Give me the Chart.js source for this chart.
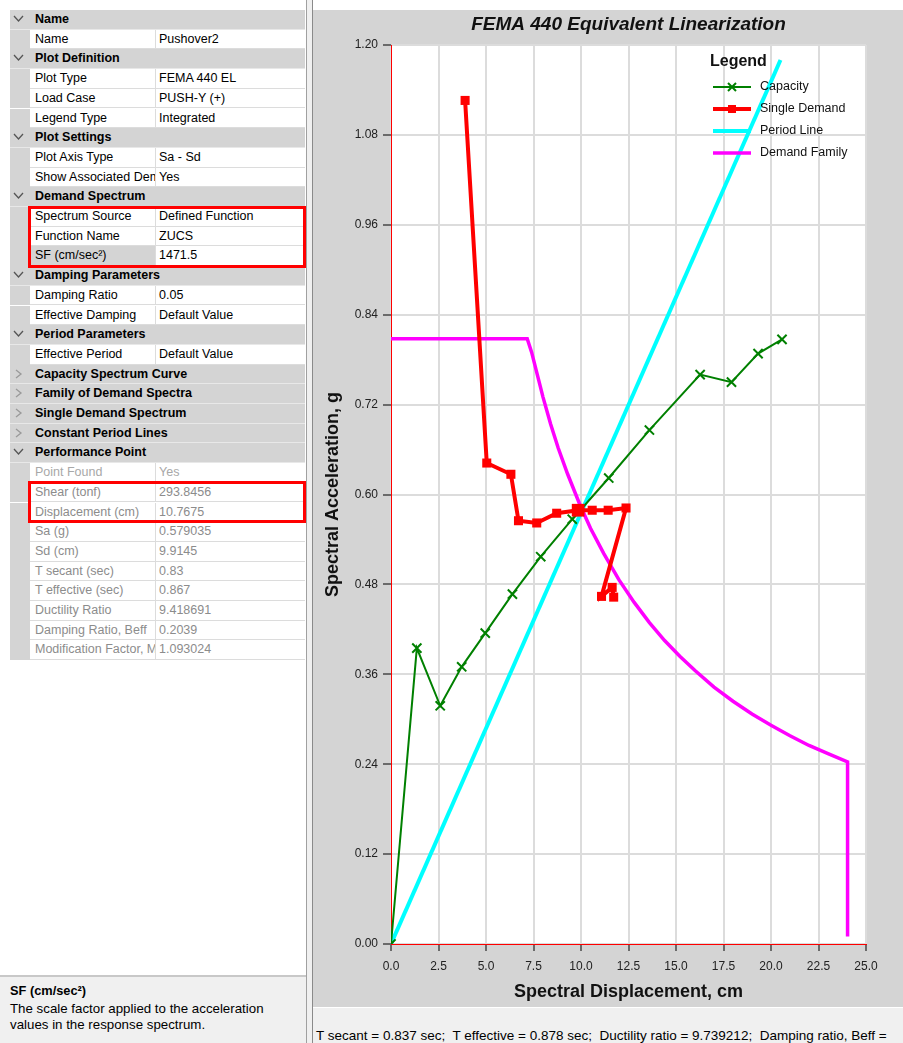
<!DOCTYPE html>
<html>
<head>
<meta charset="utf-8">
<script src="https://cdn.jsdelivr.net/npm/chart.js@4.4.1/dist/chart.umd.min.js"></script>
<style>
  html, body { margin: 0; padding: 0; background: #fff; width: 903px; height: 1043px; overflow: hidden; font-family: "Liberation Sans", Arial, sans-serif; }
  #grid { position: absolute; left: 0; top: 0; width: 306px; height: 975px; background: #fff; }
  .row { position: absolute; left: 10px; width: 295px; height: 19.7px; font-size: 12.5px; line-height: 19px; box-sizing: border-box; }
  .hdr { background: #d4d4d4; font-weight: bold; border-bottom: 1px solid #e8e8e8; }
  .hdr span { position: absolute; left: 25px; }
  .chev { position: absolute; left: 3px; top: 5px; }
  .gut { position: absolute; left: 0; top: 0; width: 20px; height: 100%; background: #d4d4d4; }
  .nm, .vl { position: absolute; top: 0; height: 100%; white-space: nowrap; overflow: hidden; border-bottom: 1px solid #dcdcdc; box-sizing: border-box; padding-left: 5px; }
  .nm { left: 20px; width: 126px; border-right: 1px solid #dcdcdc; }
  .vl { left: 146px; width: 149px; padding-left: 3px; }
  .sel .nm { background: #d4d4d4; }
  .dis { color: #8c8c8c; }
  .dis0 { color: #a8a8a8; }
  .redbox { position: absolute; border: 3px solid #f00; box-sizing: border-box; }
  #desc { position: absolute; left: 0; top: 975px; width: 306px; height: 68px; background: #f0f0f0; border-top: 2px solid #c8c8c8; box-sizing: border-box; font-size: 13.3px; }
  #desc b { position: absolute; left: 10px; top: 6px; font-size: 12.8px; }
  #desc div { position: absolute; left: 10px; top: 24px; line-height: 16px; }
  #split { position: absolute; left: 306px; top: 0; width: 7px; height: 1043px; background: #f0f0f0; border-left: 1px solid #a0a0a0; border-right: 1px solid #8a8a8a; box-sizing: border-box; }
  #plot { position: absolute; left: 313px; top: 10px; width: 590px; height: 997px; background: #d4d4d4; }
  #status { position: absolute; left: 313px; top: 1008px; width: 590px; height: 35px; background: #f0f0f0; font-size: 13.5px; }
  #status span { position: absolute; left: 3px; top: 20px; white-space: nowrap; }
</style>
</head>
<body>
<div id="grid"></div>
<div class="redbox" style="left:28px;top:206px;width:278px;height:62px"></div>
<div class="redbox" style="left:28px;top:481px;width:278px;height:42px"></div>
<div id="desc"><b>SF (cm/sec²)</b><div>The scale factor applied to the acceleration<br>values in the response spectrum.</div></div>
<div id="split"></div>
<div id="plot"><canvas id="fema" width="590" height="997"></canvas></div>
<div id="status"><span>T secant = 0.837 sec;&nbsp; T effective = 0.878 sec;&nbsp; Ductility ratio = 9.739212;&nbsp; Damping ratio, Beff =</span></div>
<script>
const xTicks = [0, 2.5, 5, 7.5, 10, 12.5, 15, 17.5, 20, 22.5, 25];
const yTicks = [0, 0.12, 0.24, 0.36, 0.48, 0.60, 0.72, 0.84, 0.96, 1.08, 1.20];

const capacitySd = [0, 1.36, 2.59, 3.72, 4.96, 6.39, 7.88, 9.54, 11.46, 13.60, 16.27, 17.92, 19.32, 20.58];
const capacitySa = [0, 0.395, 0.318, 0.370, 0.415, 0.467, 0.517, 0.567, 0.622, 0.686, 0.760, 0.750, 0.788, 0.807];

const demandSd = [3.90, 5.04, 6.31, 6.71, 7.67, 8.72, 9.85, 10.59, 11.43, 12.37, 11.08, 11.64, 11.72];
const demandSa = [1.126, 0.642, 0.627, 0.565, 0.562, 0.575, 0.579, 0.579, 0.579, 0.582, 0.464, 0.476, 0.463];

const periodSd = [0, 20.5];
const periodSa = [0, 1.18];

const familySd = [0, 7.17, 7.4, 7.7, 8.0, 8.4, 8.8, 9.3, 9.9, 10.5, 11.2, 12.0, 12.8, 13.6, 14.4, 15.2, 16.0, 17.0, 18.0, 19.0, 20.0, 21.0, 22.0, 23.0, 24.03, 24.03];
const familySa = [0.808, 0.808, 0.790, 0.760, 0.730, 0.694, 0.662, 0.627, 0.589, 0.555, 0.521, 0.486, 0.456, 0.429, 0.405, 0.384, 0.365, 0.343, 0.324, 0.307, 0.292, 0.278, 0.265, 0.254, 0.243, 0.010];

// property grid on the left
const rows = [
    ['h', 'Name'], ['p', 'Name', 'Pushover2'],
    ['h', 'Plot Definition'], ['p', 'Plot Type', 'FEMA 440 EL'], ['p', 'Load Case', 'PUSH-Y (+)'], ['p', 'Legend Type', 'Integrated'],
    ['h', 'Plot Settings'], ['p', 'Plot Axis Type', 'Sa - Sd'], ['p', 'Show Associated Demand', 'Yes'],
    ['h', 'Demand Spectrum'], ['p', 'Spectrum Source', 'Defined Function'], ['p', 'Function Name', 'ZUCS'], ['s', 'SF (cm/sec²)', '1471.5'],
    ['h', 'Damping Parameters'], ['p', 'Damping Ratio', '0.05'], ['p', 'Effective Damping', 'Default Value'],
    ['h', 'Period Parameters'], ['p', 'Effective Period', 'Default Value'],
    ['c', 'Capacity Spectrum Curve'], ['c', 'Family of Demand Spectra'], ['c', 'Single Demand Spectrum'], ['c', 'Constant Period Lines'],
    ['h', 'Performance Point'], ['d0', 'Point Found', 'Yes'],
    ['d', 'Shear (tonf)', '293.8456'], ['d', 'Displacement (cm)', '10.7675'], ['d', 'Sa (g)', '0.579035'], ['d', 'Sd (cm)', '9.9145'],
    ['d', 'T secant (sec)', '0.83'], ['d', 'T effective (sec)', '0.867'], ['d', 'Ductility Ratio', '9.418691'],
    ['d', 'Damping Ratio, Beff', '0.2039'], ['d', 'Modification Factor, M', '1.093024'],
];
const down = '<svg class="chev" width="11" height="8"><polyline points="1,1 5.5,6 10,1" fill="none" stroke="#555" stroke-width="1.3"/></svg>';
const right = '<svg class="chev" width="11" height="10" style="top:4px"><polyline points="3,1 8,5 3,9" fill="none" stroke="#999" stroke-width="1.3"/></svg>';
const grid = document.getElementById('grid');
rows.forEach((r, i) => {
    const d = document.createElement('div');
    d.className = 'row';
    d.style.top = (10 + i * 19.7) + 'px';
    if (r[0] == 'h' || r[0] == 'c') {
        d.className += ' hdr';
        d.innerHTML = (r[0] == 'h' ? down : right) + '<span>' + r[1] + '</span>';
    } else {
        if (r[0] == 's') d.className += ' sel';
        if (r[0] == 'd') d.className += ' dis';
        if (r[0] == 'd0') d.className += ' dis0';
        d.innerHTML = '<div class="gut"></div><div class="nm">' + r[1] + '</div><div class="vl">' + r[2] + '</div>';
    }
    grid.appendChild(d);
});

const toPoints = (xs, ys) => xs.map((x, i) => ({ x: x, y: ys[i] }));

const femaDecor = {
    id: 'femaDecor',
    beforeDraw(chart) {
        const { ctx, chartArea: a } = chart;
        ctx.save();
        ctx.fillStyle = '#ffffff';
        ctx.fillRect(a.left, a.top, a.right - a.left, a.bottom - a.top);
        ctx.restore();
    },
    afterDraw(chart) {
        const { ctx, chartArea: a } = chart;
        ctx.save();
        ctx.fillStyle = '#111';
        ctx.textAlign = 'center';
        ctx.textBaseline = 'middle';
        ctx.font = 'italic bold 19px "Liberation Sans", Arial';
        ctx.fillText('FEMA 440 Equivalent Linearization', (a.left + a.right) / 2, 15);

        // legend box inside the plot
        ctx.textAlign = 'left';
        ctx.font = 'bold 16px "Liberation Sans", Arial';
        ctx.fillText('Legend', 397, 52);
        ctx.font = '12.5px "Liberation Sans", Arial';
        chart.data.datasets.forEach((ds, i) => {
            const y = 77 + i * 22;
            ctx.strokeStyle = ds.borderColor;
            ctx.lineWidth = ds.borderWidth;
            ctx.beginPath();
            ctx.moveTo(400, y);
            ctx.lineTo(438, y);
            ctx.stroke();
            if (ds.legendMarker == 'cross') {
                ctx.lineWidth = 2;
                ctx.beginPath();
                ctx.moveTo(415, y - 4); ctx.lineTo(423, y + 4);
                ctx.moveTo(423, y - 4); ctx.lineTo(415, y + 4);
                ctx.stroke();
            } else if (ds.legendMarker == 'rect') {
                ctx.fillStyle = ds.borderColor;
                ctx.fillRect(415, y - 4, 8, 8);
            }
            ctx.fillStyle = '#111';
            ctx.fillText(ds.label, 447, y);
        });
        ctx.restore();
    }
};

const ctx_fema = document.getElementById('fema').getContext('2d');
const Chart_fema = new Chart(ctx_fema, {
    type: 'scatter',
    data: {
        datasets: [{
            label: 'Capacity',
            data: toPoints(capacitySd, capacitySa),
            showLine: true,
            borderColor: '#008000',
            backgroundColor: '#008000',
            borderWidth: 2,
            pointStyle: 'crossRot',
            pointRadius: 6.5,
            pointBorderWidth: 2,
            legendMarker: 'cross',
            order: 1,
        }, {
            label: 'Single Demand',
            data: toPoints(demandSd, demandSa),
            showLine: true,
            borderColor: '#ff0000',
            backgroundColor: '#ff0000',
            borderWidth: 4,
            pointStyle: 'rect',
            pointRadius: [6.4, 6.4, 6.4, 6.4, 6.4, 6.4, 9, 6.4, 6.4, 6.4, 6.4, 6.4, 6.4],
            pointBorderWidth: 0,
            legendMarker: 'rect',
            order: 0,
        }, {
            label: 'Period Line',
            data: toPoints(periodSd, periodSa),
            showLine: true,
            borderColor: '#00ffff',
            borderWidth: 4,
            pointRadius: 0,
            order: 2,
        }, {
            label: 'Demand Family',
            data: toPoints(familySd, familySa),
            showLine: true,
            borderColor: '#ff00ff',
            borderWidth: 3.5,
            pointRadius: 0,
            order: 3,
        }]
    },
    options: {
        responsive: false,
        animation: false,
        layout: { padding: { top: 35, right: 37, left: 0, bottom: 0 } },
        plugins: {
            legend: { display: false },
            tooltip: { enabled: false },
        },
        scales: {
            x: {
                type: 'linear',
                min: 0,
                max: 25,
                afterBuildTicks: s => { s.ticks = xTicks.map(v => ({ value: v })); },
                afterFit: s => { s.height = 63; },
                ticks: {
                    callback: v => v.toFixed(1),
                    color: '#222',
                    font: { size: 12, family: '"Liberation Sans", Arial' },
                    padding: 8,
                    maxRotation: 0,
                },
                grid: { color: '#dcdcdc', lineWidth: 2, tickColor: '#000', tickLength: 7, tickWidth: 1 },
                border: { color: '#ff0000', width: 1 },
                title: {
                    display: true,
                    text: 'Spectral Displacement, cm',
                    color: '#111',
                    font: { size: 18, weight: 'bold', family: '"Liberation Sans", Arial' },
                    padding: { top: 0, bottom: 4 },
                },
            },
            y: {
                type: 'linear',
                min: 0,
                max: 1.2,
                afterBuildTicks: s => { s.ticks = yTicks.map(v => ({ value: v })); },
                afterFit: s => { s.width = 78; },
                ticks: {
                    callback: v => v.toFixed(2),
                    color: '#222',
                    font: { size: 12, family: '"Liberation Sans", Arial' },
                    padding: 5,
                },
                grid: { color: '#dcdcdc', lineWidth: 2, tickColor: '#000', tickLength: 8, tickWidth: 1 },
                border: { color: '#ff0000', width: 1 },
                title: {
                    display: true,
                    text: 'Spectral Acceleration, g',
                    color: '#111',
                    font: { size: 18, weight: 'bold', family: '"Liberation Sans", Arial' },
                    padding: { top: 9, bottom: 0 },
                },
            }
        }
    },
    plugins: [femaDecor]
});
</script>
</body>
</html>
